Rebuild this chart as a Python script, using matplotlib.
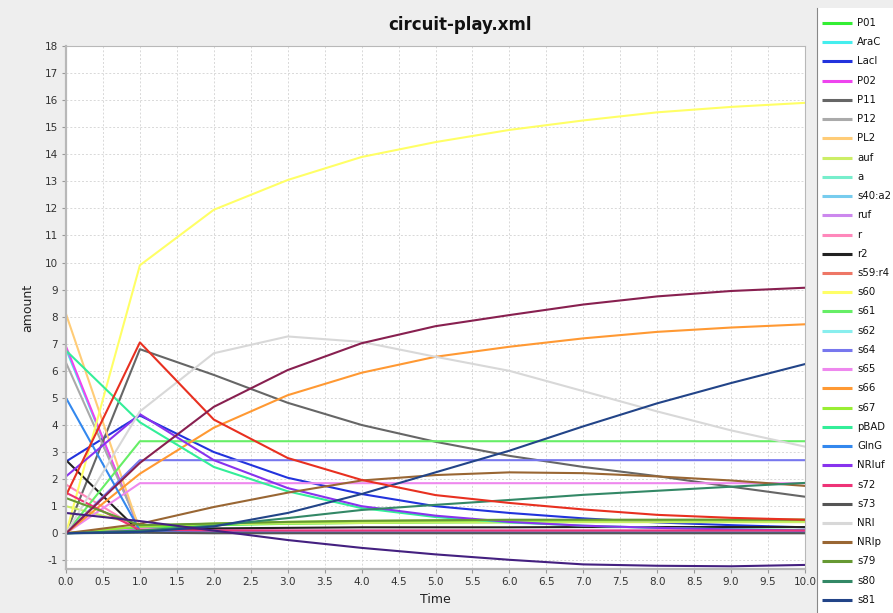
import matplotlib
matplotlib.use("Agg")
import matplotlib.pyplot as plt
import numpy as np

plt.rcParams["axes.unicode_minus"] = False

time = [0, 1, 2, 3, 4, 5, 6, 7, 8, 9, 10]

names = ["P01", "AraC", "LacI", "P02", "P11", "P12", "PL2", "auf", "a", "s40:a2",
         "ruf", "r", "r2", "s59:r4", "s60", "s61", "s62", "s64", "s65", "s66",
         "s67", "pBAD", "GlnG", "NRIuf", "s72", "s73", "NRI", "NRIp", "s79", "s80", "s81"]

colors = ["#33ee33", "#44eeee", "#2233dd", "#ee44ee", "#666666", "#aaaaaa", "#ffcc77",
          "#ccee66", "#77eecc", "#77ccee", "#cc88ee", "#ff88bb", "#222222", "#ee7766",
          "#ffff66", "#66ee66", "#88eeee", "#7777ee", "#ee88ee", "#ff9933", "#99ee33",
          "#33ee99", "#3388ee", "#8833ee", "#ee3377", "#555555", "#d8d8d8", "#996633",
          "#669933", "#338866", "#224488"]

values = {
    "P01":    [0.0, 0.2, 0.30, 0.35, 0.38, 0.40, 0.41, 0.42, 0.42, 0.43, 0.43],
    "AraC":   [6.8, 0.1, 0.05, 0.03, 0.02, 0.02, 0.02, 0.02, 0.02, 0.02, 0.02],
    "LacI":   [2.65, 4.35, 3.0, 2.05, 1.45, 1.0, 0.75, 0.55, 0.4, 0.3, 0.22],
    "P02":    [6.9, 0.1, 0.05, 0.03, 0.03, 0.03, 0.03, 0.03, 0.03, 0.03, 0.03],
    "P11":    [0.0, 6.8, 5.85, 4.82, 4.0, 3.38, 2.86, 2.45, 2.11, 1.72, 1.35],
    "P12":    [6.3, 0.2, 0.1, 0.06, 0.05, 0.05, 0.05, 0.05, 0.05, 0.05, 0.05],
    "PL2":    [8.1, 0.1, 0.05, 0.03, 0.02, 0.02, 0.02, 0.02, 0.02, 0.02, 0.02],
    "auf":    [1.0, 0.3, 0.33, 0.36, 0.38, 0.40, 0.40, 0.41, 0.41, 0.41, 0.41],
    "a":      [0.0, 0.1, 0.08, 0.06, 0.05, 0.05, 0.05, 0.05, 0.05, 0.05, 0.05],
    "s40:a2": [0.0, 0.05, 0.05, 0.05, 0.05, 0.05, 0.05, 0.05, 0.05, 0.05, 0.05],
    "ruf":    [0.0, 0.15, 0.12, 0.1, 0.1, 0.1, 0.1, 0.1, 0.1, 0.1, 0.1],
    "r":      [1.8, 0.15, 0.1, 0.08, 0.08, 0.08, 0.08, 0.08, 0.08, 0.08, 0.08],
    "r2":     [2.7, 0.05, 0.18, 0.2, 0.22, 0.22, 0.22, 0.23, 0.23, 0.23, 0.23],
    "s59:r4": [0.0, 0.1, 0.06, 0.05, 0.05, 0.05, 0.05, 0.05, 0.05, 0.05, 0.05],
    "s60":    [0.0, 9.9, 11.95, 13.05, 13.9, 14.45, 14.9, 15.25, 15.55, 15.75, 15.9],
    "s61":    [0.0, 3.4, 3.4, 3.4, 3.4, 3.4, 3.4, 3.4, 3.4, 3.4, 3.4],
    "s62":    [0.0, 0.03, 0.03, 0.03, 0.03, 0.03, 0.03, 0.03, 0.03, 0.03, 0.03],
    "s64":    [0.0, 2.7, 2.7, 2.7, 2.7, 2.7, 2.7, 2.7, 2.7, 2.7, 2.7],
    "s65":    [0.0, 1.85, 1.85, 1.85, 1.85, 1.85, 1.85, 1.85, 1.85, 1.85, 1.85],
    "s66":    [0.0, 2.2, 3.9, 5.1, 5.93, 6.52, 6.89, 7.2, 7.44, 7.6, 7.72],
    "s67":    [0.0, 0.25, 0.36, 0.42, 0.45, 0.47, 0.48, 0.49, 0.49, 0.5, 0.5],
    "pBAD":   [6.75, 4.1, 2.45, 1.55, 0.93, 0.6, 0.4, 0.28, 0.2, 0.15, 0.12],
    "GlnG":   [5.0, 0.1, 0.05, 0.03, 0.03, 0.03, 0.03, 0.03, 0.03, 0.03, 0.03],
    "NRIuf":  [2.1, 4.4, 2.7, 1.67, 1.0, 0.65, 0.42, 0.28, 0.2, 0.14, 0.1],
    "s72":    [1.5, 0.12, 0.1, 0.1, 0.1, 0.1, 0.1, 0.1, 0.1, 0.1, 0.1],
    "s73":    [0.0, 0.02, 0.0, 0.0, 0.0, 0.0, 0.0, 0.0, 0.0, 0.0, 0.0],
    "NRI":    [0.0, 4.5, 6.65, 7.27, 7.07, 6.52, 6.0, 5.25, 4.5, 3.8, 3.2],
    "NRIp":   [0.0, 0.35, 0.97, 1.5, 1.95, 2.15, 2.25, 2.22, 2.1, 1.95, 1.75],
    "s79":    [1.3, 0.3, 0.36, 0.42, 0.46, 0.48, 0.5, 0.5, 0.5, 0.5, 0.5],
    "s80":    [0.0, 0.1, 0.28, 0.56, 0.86, 1.05, 1.23, 1.42, 1.57, 1.72, 1.86],
    "s81":    [0.0, 0.05, 0.25, 0.75, 1.45, 2.25, 3.05, 3.95, 4.8, 5.55, 6.25],
}

# series plotted but whose legend entries are cut off in the original
extra_names = ["s82", "s83", "s84"]
extra_colors = ["#e83020", "#882050", "#442080"]
extra_values = {
    "s82": [1.4, 7.05, 4.2, 2.78, 1.97, 1.41, 1.12, 0.88, 0.68, 0.57, 0.5],
    "s83": [0.0, 2.6, 4.67, 6.03, 7.02, 7.65, 8.06, 8.45, 8.75, 8.95, 9.07],
    "s84": [0.75, 0.45, 0.1, -0.25, -0.54, -0.78, -0.98, -1.15, -1.2, -1.22, -1.17],
}

W, H = 893, 613
fig = plt.figure(figsize=(W / 100, H / 100), dpi=100)
fig.patch.set_facecolor("#eeeeee")

L, R, T, B = 66, 805, 46, 569
ax = fig.add_axes([L / W, 1 - B / H, (R - L) / W, (B - T) / H])
ax.set_facecolor("white")

for n, c in zip(names, colors):
    ax.plot(time, values[n], color=c, lw=1.5)
for n, c in zip(extra_names, extra_colors):
    ax.plot(time, extra_values[n], color=c, lw=1.5)

ax.set_xlim(0, 10)
ax.set_ylim(-1.32, 18)
ax.set_xticks(np.arange(0, 10.01, 0.5))
ax.set_xticklabels([f"{v:.1f}" for v in np.arange(0, 10.01, 0.5)])
ax.set_yticks(np.arange(-1, 19, 1))
ax.grid(True, color="#d8d8d8", linestyle=(0, (2, 2)), lw=0.7)
ax.set_axisbelow(True)
for s in ax.spines.values():
    s.set_color("#b8b8b8")
    s.set_linewidth(0.8)
ax.spines["left"].set_linewidth(1.6)
ax.spines["bottom"].set_linewidth(1.6)
ax.tick_params(labelsize=7.5, colors="#333333", length=3, width=0.8, pad=3)
ax.tick_params(axis="both", color="#999999")
ax.set_xlabel("Time", fontsize=9, color="#222222", labelpad=4)
ax.set_ylabel("amount", fontsize=9, color="#222222", labelpad=7)

fig.text(460 / W, 1 - 25 / H, "circuit-play.xml", ha="center", va="center",
         fontsize=12, fontweight="bold", color="#111111")

# legend panel (truncated at the edges as in the original)
lx0, ly0 = 817, 8
lax = fig.add_axes([lx0 / W, 0, (W - lx0) / W, (H - ly0) / H])
lax.set_facecolor("white")
lax.set_xlim(lx0, W)
lax.set_ylim(H, ly0)
lax.set_xticks([])
lax.set_yticks([])
for k, s in lax.spines.items():
    s.set_visible(k == "left")
    s.set_color("#888888")
    s.set_linewidth(0.8)
step = 19.23
for i, (n, c) in enumerate(zip(names, colors)):
    y = 23 + i * step
    lax.plot([822, 852], [y, y], color=c, lw=2.2, solid_capstyle="butt")
    lax.text(857, y, n, fontsize=7.3, va="center", ha="left", color="#111111")

fig.savefig("out.png", dpi=100, facecolor=fig.get_facecolor())
